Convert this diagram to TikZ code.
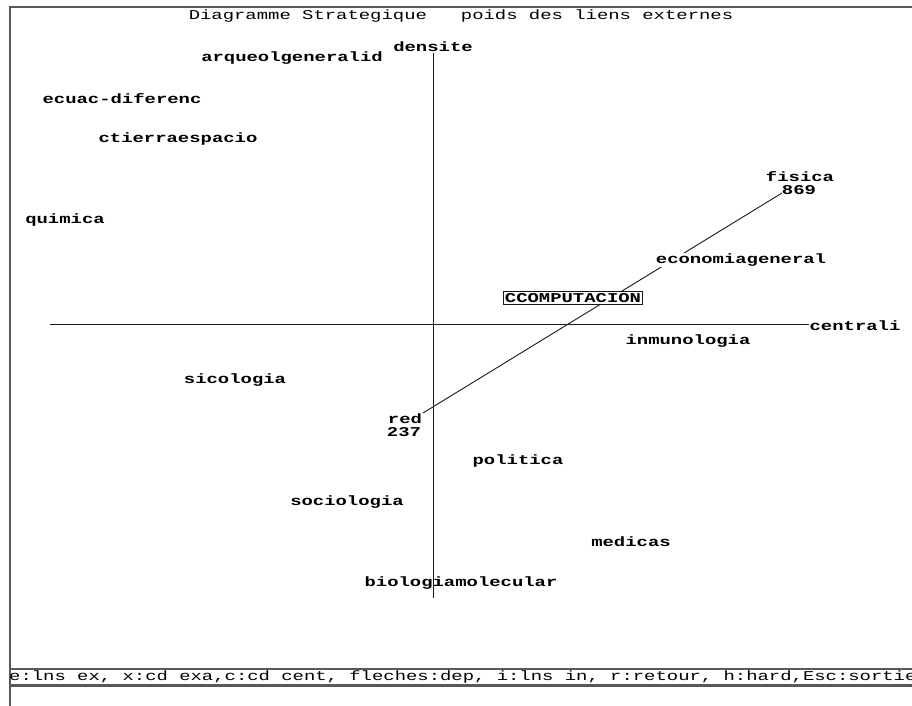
\documentclass[tikz,border=0pt]{standalone}
\usepackage{fontspec}
\usepackage{tikz}
\tikzset{>=latex}
\usetikzlibrary{calc}
\newfontfamily\vga[FakeStretch=1.4]{Liberation Mono}
\definecolor{trait}{gray}{0.1}
\definecolor{cadre}{gray}{0.35}
\tikzset{
  etiq/.style={inner sep=0.5pt, fill=white, font=\vga\fontsize{13.5}{14}\selectfont\bfseries},
  menu/.style={inner sep=0pt, font=\vga\fontsize{13.5}{14}\selectfont},
  axe/.style={trait, line width=0.9pt},
}

\begin{document}
\begin{tikzpicture}[x=1pt, y=-1pt]
            \useasboundingbox[fill=white] (0,0) rectangle (912,706);
            \draw[cadre, line width=1.6pt] (912,7) -- (10,7) -- (10,706);
            \draw[cadre, line width=1.2pt] (10,669) -- (912,669);
            \draw[cadre, line width=2.6pt] (10,685.5) -- (912,685.5);
            \node[menu] (titre) at (461,16) {Diagramme Strategique\ \ \ poids des liens externes};
            \node[menu, anchor=west] (barre) at (9,677.5) {e:lns ex, x:cd exa,c:cd cent, fleches:dep, i:lns in, r:retour, h:hard,Esc:sortie};
            \coordinate (bas) at (423,413);
            \coordinate (haut) at (782,193);
            \draw[axe] (bas) -- (haut);
            \node[etiq] (dens) at (433,47) {densite};
            \node[etiq] (arqueo) at (292,58) {arqueolgeneralid};
            \node[etiq] (ecuac) at (122,99) {ecuac-diferenc};
            \node[etiq] (ctierra) at (178,139) {ctierraespacio};
            \node[etiq] (quimica) at (65,220) {quimica};
            \node[etiq, inner sep=0pt] (fisica) at (800,177) {fisica};
            \node[etiq, inner sep=0pt] (fisicaw) at (799,190) {869};
            \node[etiq] (econ) at (741,260) {economiageneral};
            \node[etiq, draw=trait, line width=1pt, inner sep=1.5pt] (ccomp) at (573,298) {CCOMPUTACION};
            \node[etiq] (centrali) at (855,326) {centrali};
            \node[etiq] (inmuno) at (688,341) {inmunologia};
            \node[etiq] (sicol) at (235,380) {sicologia};
            \node[etiq, inner sep=0pt] (red) at (405,419) {red};
            \node[etiq, inner sep=0pt] (redw) at (404,432) {237};
            \node[etiq] (politica) at (518,461) {politica};
            \node[etiq] (sociol) at (347,502) {sociologia};
            \node[etiq] (medicas) at (631,542) {medicas};
            \node[etiq] (biomol) at (461,583) {biologiamolecular};
            \coordinate (gauche) at (50,324);
            \coordinate (pied) at (433,598);
            \draw[axe] (gauche) -- (gauche -| centrali.west);
            \draw[axe] (dens.south) -- (pied);
        \end{tikzpicture}
\end{document}
